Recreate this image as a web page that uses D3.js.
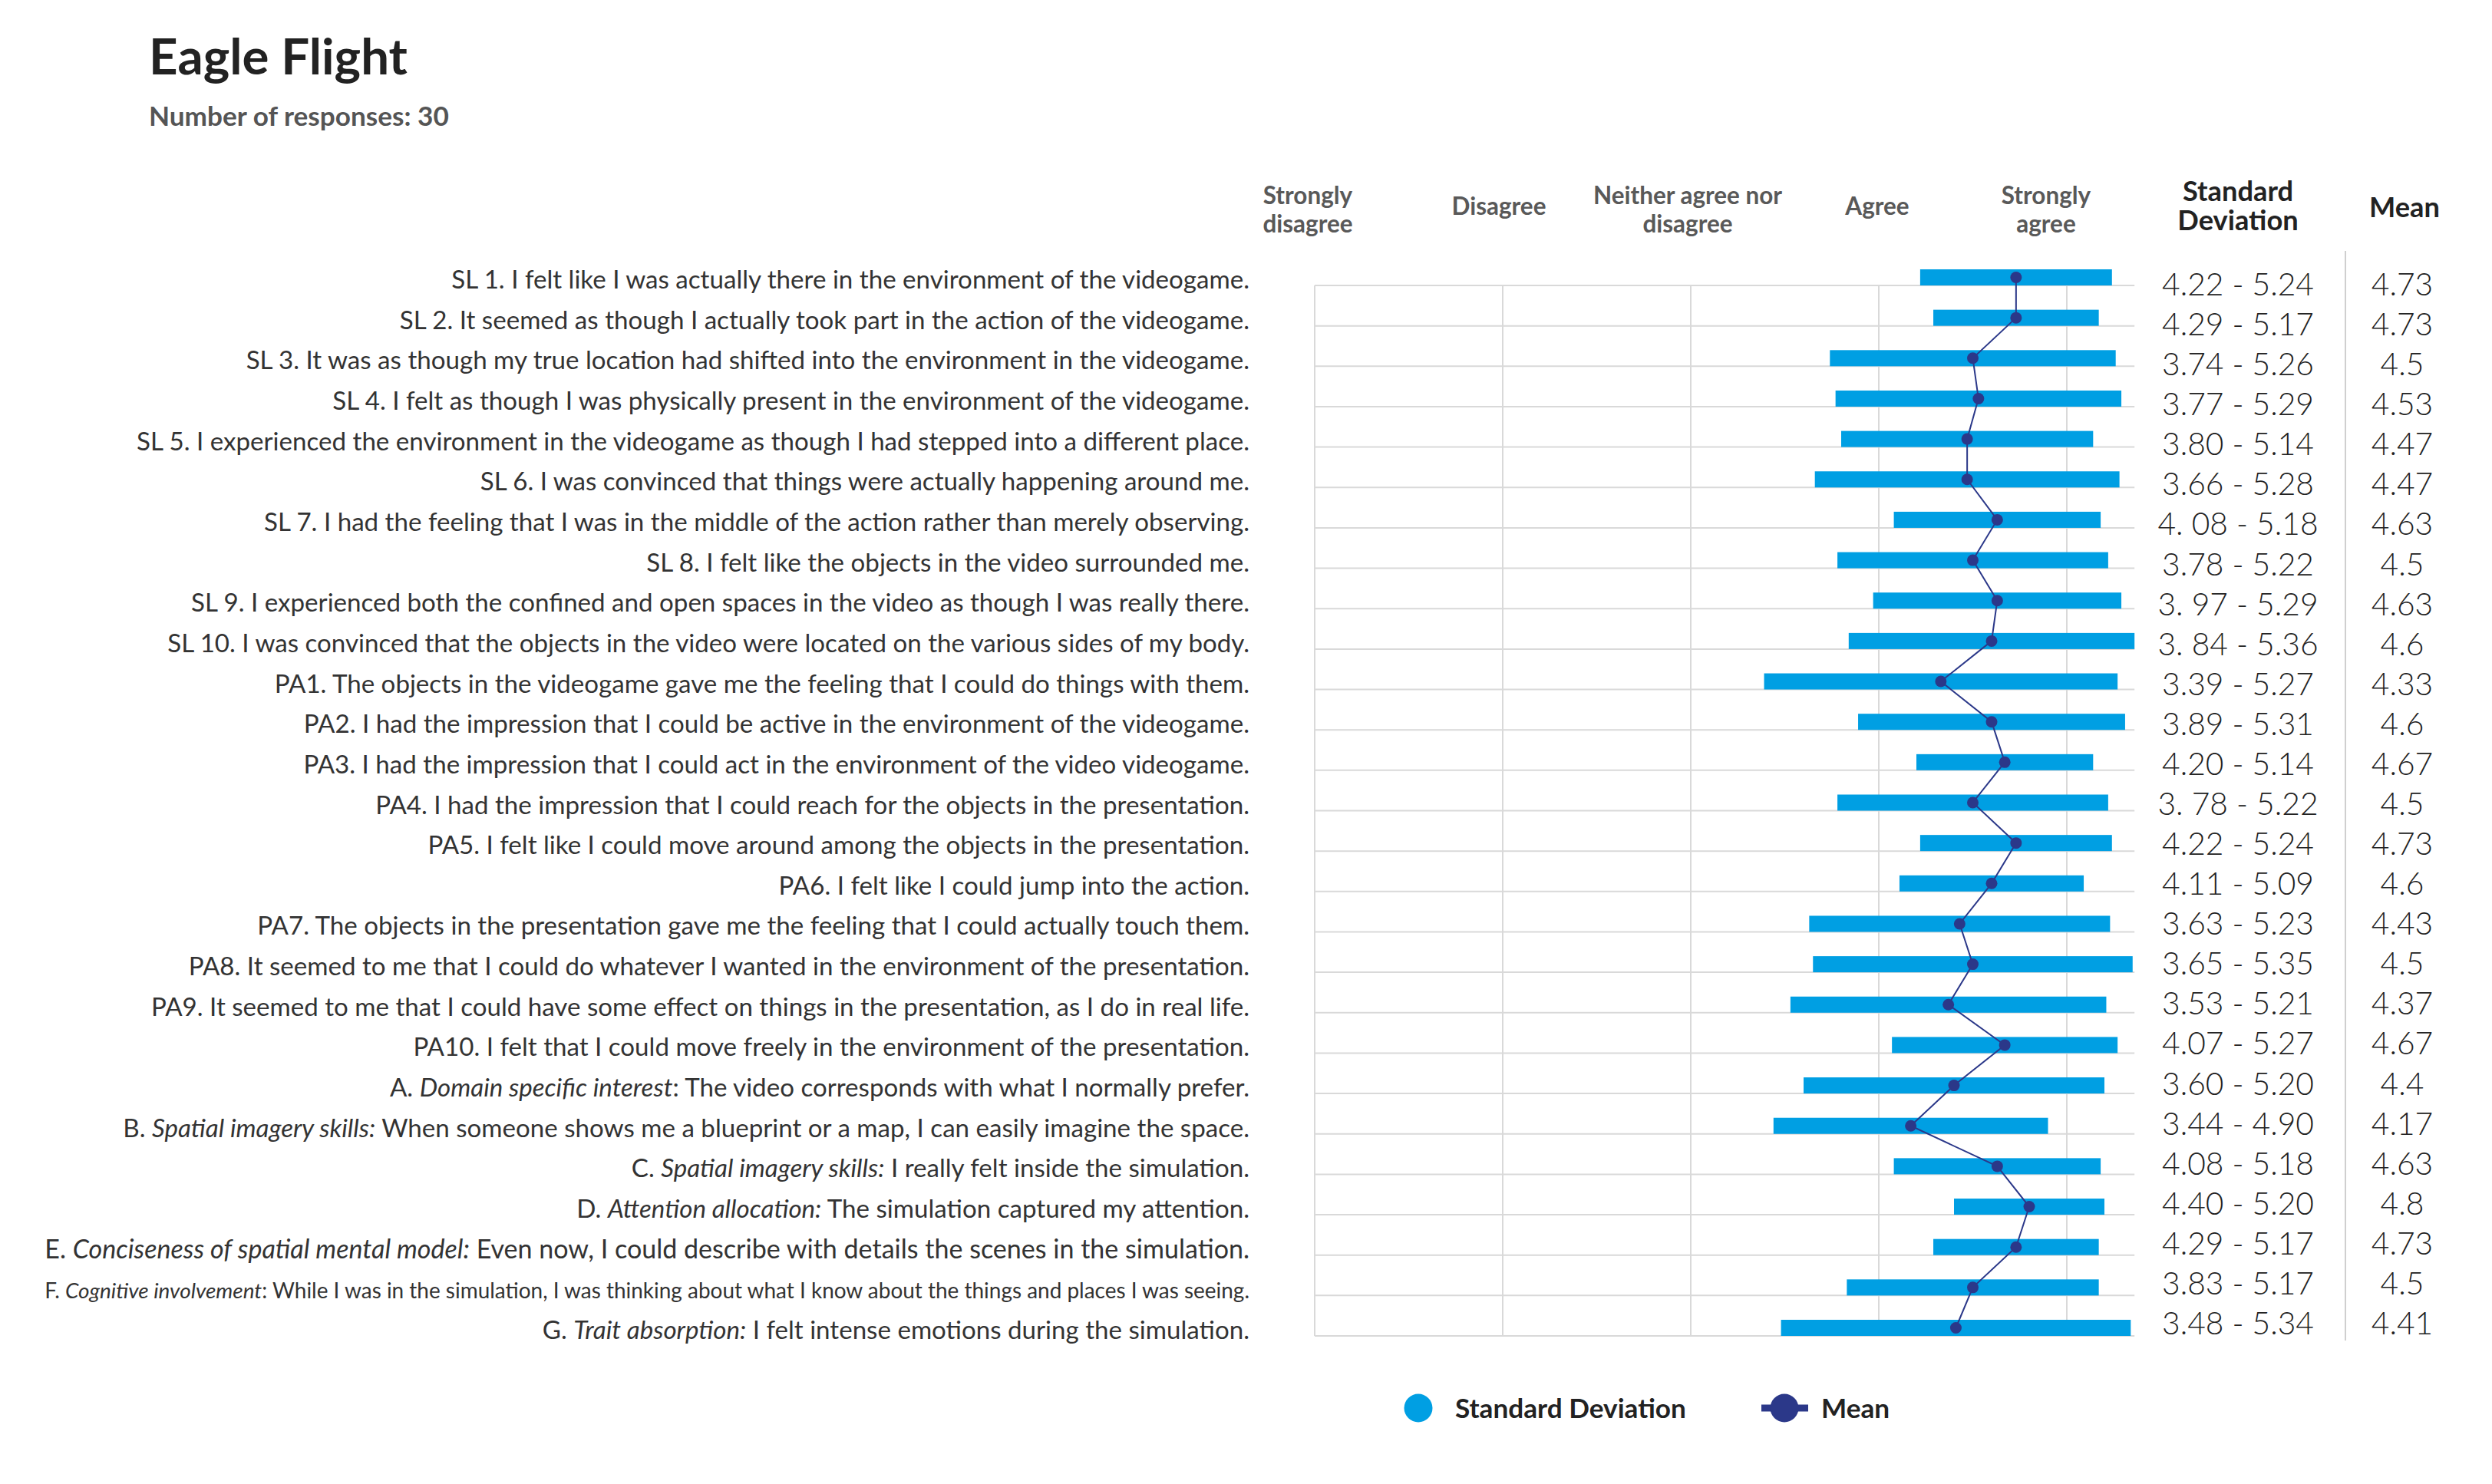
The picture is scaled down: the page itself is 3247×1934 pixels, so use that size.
<!DOCTYPE html>
<html>
<head>
<meta charset="utf-8">
<script src="https://cdn.jsdelivr.net/npm/d3@7"></script>
<style>
  html, body { margin: 0; padding: 0; background: #ffffff; }
  svg { display: block; }
</style>
</head>
<body>
<svg id="chart" width="3247" height="1934"></svg>
<script>
// ---------------- DATA ----------------
const title = "Eagle Flight";
const subtitle = "Number of responses: 30";

const scaleLabels = [
  ["Strongly", "disagree"],
  ["Disagree"],
  ["Neither agree nor", "disagree"],
  ["Agree"],
  ["Strongly", "agree"]
];
const scaleValues = [1, 2, 3, 4, 5];

const categories = [
  "SL 1. I felt like I was actually there in the environment of the videogame.",
  "SL 2. It seemed as though I actually took part in the action of the videogame.",
  "SL 3. It was as though my true location had shifted into the environment in the videogame.",
  "SL 4. I felt as though I was physically present in the environment of the videogame.",
  "SL 5. I experienced the environment in the videogame as though I had stepped into a different place.",
  "SL 6. I was convinced that things were actually happening around me.",
  "SL 7. I had the feeling that I was in the middle of the action rather than merely observing.",
  "SL 8. I felt like the objects in the video  surrounded me.",
  "SL 9. I experienced both the confined and open spaces in the video as though I was really there.",
  "SL 10. I was convinced that the objects in the video were located on the various sides of my body.",
  "PA1. The objects in the videogame gave me the feeling that I could do things with them.",
  "PA2. I had the impression that I could be active in the environment of the videogame.",
  "PA3. I had the impression that I could act in the environment of the video videogame.",
  "PA4. I had the impression that I could reach for the objects in the presentation.",
  "PA5. I felt like I could move around among the objects in the presentation.",
  "PA6. I felt like I could jump into the action.",
  "PA7. The objects in the presentation gave me the feeling that I could actually touch them.",
  "PA8. It seemed to me that I could do whatever I wanted in the environment of the presentation.",
  "PA9. It seemed to me that I could have some effect on things in the presentation, as I do in real life.",
  "PA10. I felt that I could move freely in the environment of the presentation.",
  "A. Domain specific interest: The video corresponds with what I normally prefer.",
  "B. Spatial imagery skills: When someone shows me a blueprint or a map, I can easily imagine the space.",
  "C. Spatial imagery skills: I really felt inside the simulation.",
  "D. Attention allocation: The simulation captured my attention.",
  "E. Conciseness of spatial mental model: Even now, I could describe with details the scenes in the simulation.",
  "F. Cognitive involvement: While I was in the simulation, I was thinking about what I know about the things and places I was seeing.",
  "G. Trait absorption: I felt intense emotions during the simulation."
];

// italic part of each label ("" = none)
const emphasis = [
  "", "", "", "", "", "", "", "", "", "",
  "", "", "", "", "", "", "", "", "", "",
  "Domain specific interest",
  "Spatial imagery skills:",
  "Spatial imagery skills:",
  "Attention allocation:",
  "Conciseness of spatial mental model:",
  "Cognitive involvement",
  "Trait absorption:"
];

const sdLow = [4.22, 4.29, 3.74, 3.77, 3.80, 3.66, 4.08, 3.78, 3.97, 3.84,
               3.39, 3.89, 4.20, 3.78, 4.22, 4.11, 3.63, 3.65, 3.53, 4.07,
               3.60, 3.44, 4.08, 4.40, 4.29, 3.83, 3.48];
const sdHigh = [5.24, 5.17, 5.26, 5.29, 5.14, 5.28, 5.18, 5.22, 5.29, 5.36,
                5.27, 5.31, 5.14, 5.22, 5.24, 5.09, 5.23, 5.35, 5.21, 5.27,
                5.20, 4.90, 5.18, 5.20, 5.17, 5.17, 5.34];
const means = [4.73, 4.73, 4.5, 4.53, 4.47, 4.47, 4.63, 4.5, 4.63, 4.6,
               4.33, 4.6, 4.67, 4.5, 4.73, 4.6, 4.43, 4.5, 4.37, 4.67,
               4.4, 4.17, 4.63, 4.8, 4.73, 4.5, 4.41];
const sdLabels = ["4.22 - 5.24", "4.29 - 5.17", "3.74 - 5.26", "3.77 - 5.29", "3.80 - 5.14",
                  "3.66 - 5.28", "4. 08 - 5.18", "3.78 - 5.22", "3. 97 - 5.29", "3. 84 - 5.36",
                  "3.39 - 5.27", "3.89 - 5.31", "4.20 - 5.14", "3. 78 - 5.22", "4.22 - 5.24",
                  "4.11 - 5.09", "3.63 - 5.23", "3.65 - 5.35", "3.53 - 5.21", "4.07 - 5.27",
                  "3.60 - 5.20", "3.44 - 4.90", "4.08 - 5.18", "4.40 - 5.20", "4.29 - 5.17",
                  "3.83 - 5.17", "3.48 - 5.34"];
const meanLabels = ["4.73", "4.73", "4.5", "4.53", "4.47", "4.47", "4.63", "4.5", "4.63", "4.6",
                    "4.33", "4.6", "4.67", "4.5", "4.73", "4.6", "4.43", "4.5", "4.37", "4.67",
                    "4.4", "4.17", "4.63", "4.8", "4.73", "4.5", "4.41"];
const tableHeaders = [["Standard", "Deviation"], ["Mean"]];
const legendItems = ["Standard Deviation", "Mean"];

// ---------------- STYLE ----------------
const FONT = "Lato, 'Noto Sans', 'DejaVu Sans', sans-serif";
const BAR_COLOR = "#009FE3";
const MEAN_COLOR = "#2B3889";
const GRID_COLOR = "#D9D9D9";

const svg = d3.select("#chart");

// text measurement helper
const measurer = svg.append("text").attr("font-family", FONT).attr("font-size", 100)
  .attr("x", -5000).attr("y", -5000);
function fitSize(str, target, weight = 400, style = "normal") {
  measurer.attr("font-weight", weight).attr("font-style", style).text(str);
  const w = measurer.node().getComputedTextLength();
  return 100 * target / w;
}

// ---------------- SCALES ----------------
const n = categories.length;
const x = d3.scaleLinear().domain([1, 5]).range([1713, 2693]);
const xMaxGrid = 5.36;
const yLine = d3.scaleLinear().domain([0, n - 1]).range([372, 1741]);
const yTable = d3.scaleLinear().domain([0, n - 1]).range([385, 1739]);
const barH = 21;

// ---------------- TITLE ----------------
svg.append("text")
  .attr("x", 194).attr("y", 97)
  .attr("font-family", FONT).attr("font-weight", 700)
  .attr("font-size", fitSize(title, 337, 700))
  .attr("fill", "#222222").text(title);

svg.append("text")
  .attr("x", 194).attr("y", 164)
  .attr("font-family", FONT).attr("font-weight", 700)
  .attr("font-size", fitSize(subtitle, 391, 700))
  .attr("fill", "#555555").text(subtitle);

// ---------------- GRID ----------------
const grid = svg.append("g");
grid.selectAll("line.h").data(d3.range(n)).join("line")
  .attr("x1", x(1)).attr("x2", x(xMaxGrid))
  .attr("y1", d => yLine(d)).attr("y2", d => yLine(d))
  .attr("stroke", GRID_COLOR).attr("stroke-width", 2);
grid.selectAll("line.v").data(scaleValues).join("line")
  .attr("x1", d => x(d)).attr("x2", d => x(d))
  .attr("y1", yLine(0)).attr("y2", yLine(n - 1))
  .attr("stroke", GRID_COLOR).attr("stroke-width", 2);

// ---------------- HEADERS ----------------
const headerDx = [-9, -5, -4, -2, -27];
const hdrSize = fitSize("Disagree", 123, 700);
const hdr = svg.append("g").attr("font-family", FONT).attr("font-weight", 700)
  .attr("font-size", hdrSize).attr("fill", "#595959").attr("text-anchor", "middle");
scaleLabels.forEach((lines, i) => {
  const hx = x(scaleValues[i]) + headerDx[i];
  if (lines.length === 1) {
    hdr.append("text").attr("x", hx).attr("y", 280).text(lines[0]);
  } else {
    lines.forEach((l, j) => {
      hdr.append("text").attr("x", hx).attr("y", 266 + j * 37).text(l);
    });
  }
});

const colSD = 2916, colMean = 3130;
const bigHdrSize = fitSize("Standard", 144, 700);
const hdr2 = svg.append("g").attr("font-family", FONT).attr("font-weight", 700)
  .attr("font-size", bigHdrSize).attr("fill", "#222222").attr("text-anchor", "middle");
tableHeaders[0].forEach((l, j) => {
  hdr2.append("text").attr("x", colSD).attr("y", 262 + j * 38).text(l);
});
hdr2.append("text").attr("x", colMean + 3).attr("y", 283).text(tableHeaders[1][0]);

// separator
svg.append("line").attr("x1", 3056).attr("x2", 3056).attr("y1", 327).attr("y2", 1747)
  .attr("stroke", "#BFBFBF").attr("stroke-width", 1.5);

// ---------------- CATEGORY LABELS ----------------
const labelSize = fitSize(categories[0], 1040, 400);
const labels = svg.append("g").attr("font-family", FONT).attr("fill", "#333333")
  .attr("text-anchor", "end");
categories.forEach((c, i) => {
  const t = labels.append("text").attr("x", 1628).attr("y", yLine(i) + 4)
    .attr("font-size", labelSize);
  const em = emphasis[i];
  if (!em) {
    t.text(c);
  } else {
    const k = c.indexOf(em);
    t.append("tspan").text(c.slice(0, k));
    t.append("tspan").attr("font-style", "italic").text(em);
    t.append("tspan").text(c.slice(k + em.length));
  }
  if (t.node().getComputedTextLength() > 1500) {
    // long label shrunk to fit the available width (as in the reference)
    const w = t.node().getComputedTextLength();
    t.attr("font-size", labelSize * 1570 / w);
  }
});

// ---------------- BARS ----------------
svg.append("g").selectAll("rect").data(d3.range(n)).join("rect")
  .attr("x", i => x(sdLow[i]))
  .attr("width", i => x(sdHigh[i]) - x(sdLow[i]))
  .attr("y", i => yLine(i) - barH)
  .attr("height", barH)
  .attr("fill", BAR_COLOR);

// ---------------- MEAN LINE ----------------
const line = d3.line().x(i => x(means[i])).y(i => yLine(i) - barH / 2);
svg.append("path").datum(d3.range(n)).attr("d", line)
  .attr("fill", "none").attr("stroke", MEAN_COLOR).attr("stroke-width", 2);
svg.append("g").selectAll("circle").data(d3.range(n)).join("circle")
  .attr("cx", i => x(means[i])).attr("cy", i => yLine(i) - barH / 2)
  .attr("r", 7.5).attr("fill", MEAN_COLOR);

// ---------------- TABLE VALUES ----------------
const numSize = fitSize("3.48 - 5.34", 198, 300);
const tbl = svg.append("g").attr("font-family", FONT).attr("font-weight", 300)
  .attr("font-size", numSize).attr("fill", "#222222").attr("text-anchor", "middle");
tbl.selectAll("text.sd").data(sdLabels).join("text").attr("class", "sd")
  .attr("x", colSD).attr("y", (d, i) => yTable(i)).text(d => d);
tbl.selectAll("text.mn").data(meanLabels).join("text").attr("class", "mn")
  .attr("x", colMean).attr("y", (d, i) => yTable(i)).text(d => d);

// ---------------- LEGEND ----------------
const lgSize = fitSize(legendItems[0], 301, 700);
const lg = svg.append("g").attr("font-family", FONT).attr("font-weight", 700)
  .attr("font-size", lgSize).attr("fill", "#222222");
lg.append("circle").attr("cx", 1848).attr("cy", 1835).attr("r", 18.5).attr("fill", BAR_COLOR);
lg.append("text").attr("x", 1896).attr("y", 1848).text(legendItems[0]);
lg.append("line").attr("x1", 2295).attr("x2", 2356).attr("y1", 1835).attr("y2", 1835)
  .attr("stroke", MEAN_COLOR).attr("stroke-width", 9);
lg.append("circle").attr("cx", 2325).attr("cy", 1835).attr("r", 18.5).attr("fill", MEAN_COLOR);
lg.append("text").attr("x", 2373).attr("y", 1848).text(legendItems[1]);

measurer.remove();
</script>
</body>
</html>
